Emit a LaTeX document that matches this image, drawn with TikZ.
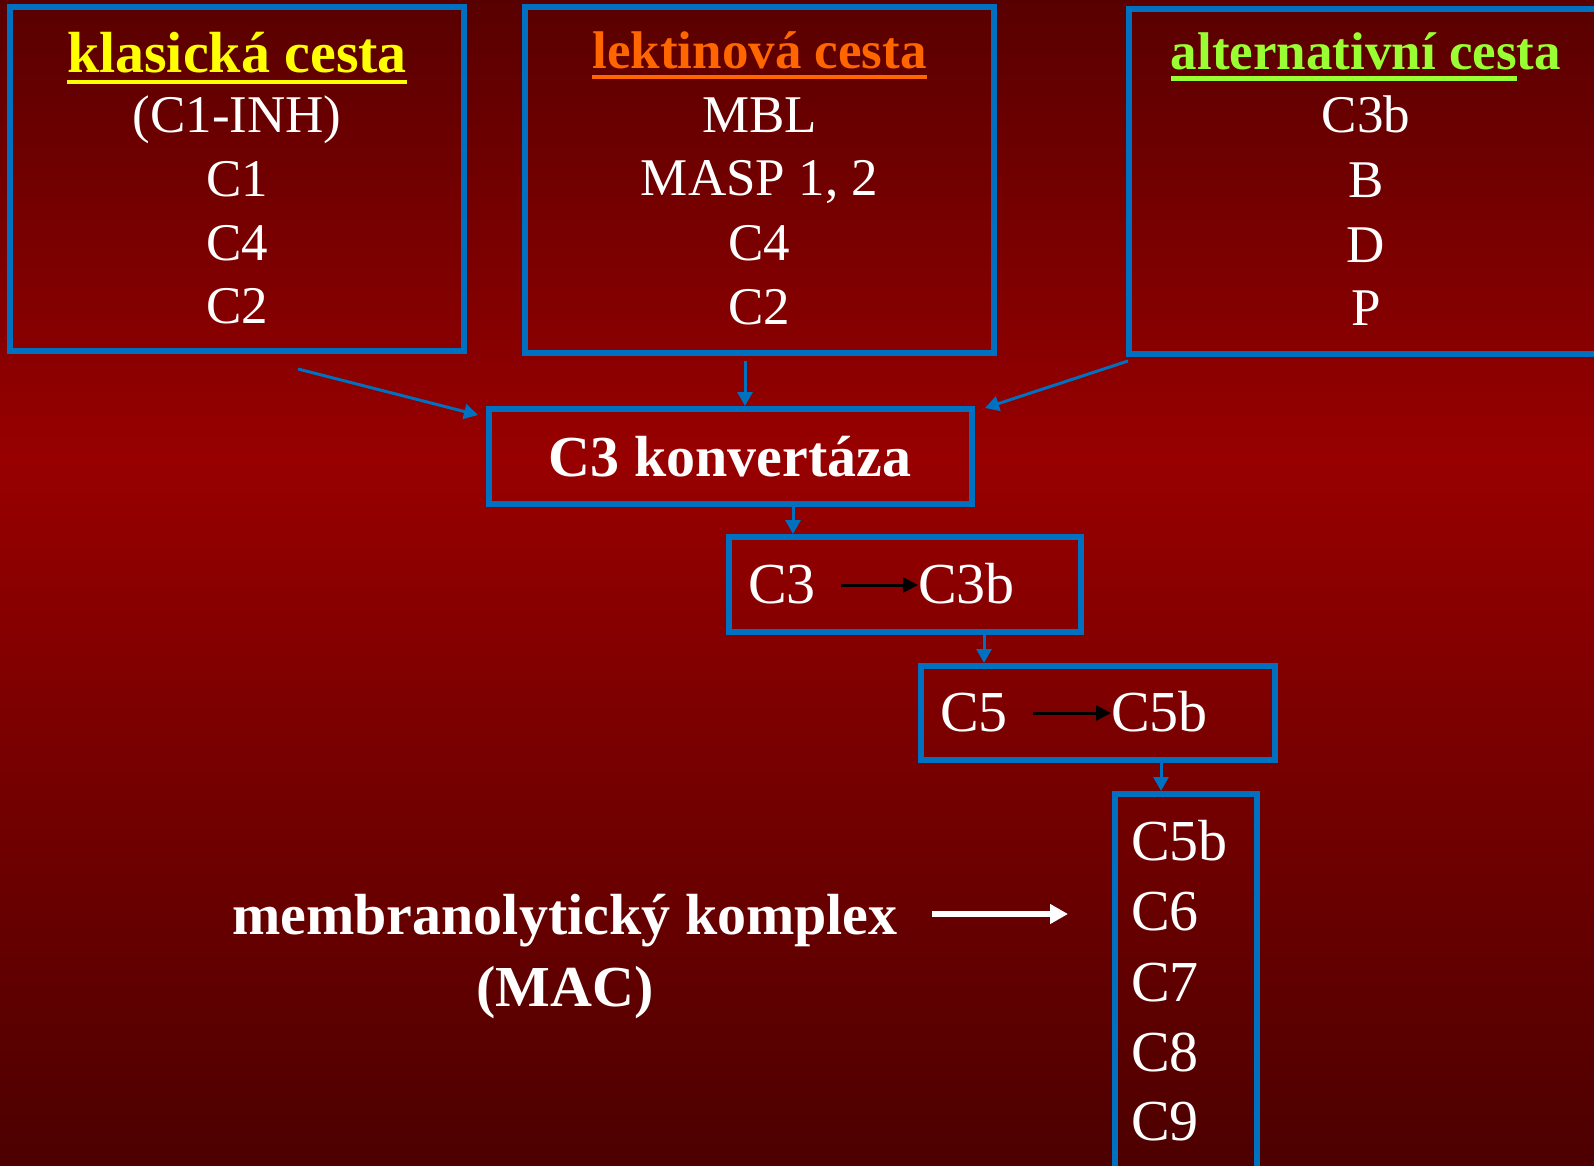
\documentclass[tikz,border=0pt]{standalone}
\usepackage{fontspec}
\setmainfont{Liberation Serif}
\usetikzlibrary{arrows.meta}
\definecolor{boxblue}{RGB}{0,112,192}
\definecolor{bgtop}{RGB}{88,0,0}
\definecolor{bgmid}{RGB}{152,0,0}
\definecolor{bgbot}{RGB}{76,0,0}
\definecolor{hyellow}{RGB}{255,255,0}
\definecolor{horange}{RGB}{255,102,0}
\definecolor{hgreen}{RGB}{153,255,51}
\newcommand\ulbar[3]{\leavevmode\setbox0\hbox{#3}\rlap{\rule[-#1]{\wd0}{#2}}\box0}
\tikzset{
  bbox/.style={draw=boxblue, line width=6pt, inner sep=0pt, rectangle},
  conn/.style={draw=boxblue, line width=3pt, -{Triangle[length=14pt,width=15pt]}},
  inarr/.style={draw=black, line width=3pt, -{Triangle[length=15pt,width=15pt]}},
  whitearr/.style={draw=white, line width=6pt, -{Triangle[length=18pt,width=19pt]}},
  hdA/.style={font=\fontsize{58}{66}\selectfont\bfseries, anchor=base, inner sep=0pt},
  hdB/.style={font=\fontsize{53}{60}\selectfont\bfseries, anchor=base, inner sep=0pt},
  itm/.style={font=\fontsize{53}{60}\selectfont, text=white, anchor=base, inner sep=0pt},
  itl/.style={font=\fontsize{58}{66}\selectfont, text=white, anchor=base west, inner sep=0pt},
  bold58/.style={font=\fontsize{58}{66}\selectfont\bfseries, text=white, anchor=base, inner sep=0pt},
}
\begin{document}
\begin{tikzpicture}[x=1pt,y=-1pt]
\useasboundingbox (0,0) rectangle (1594,1166);
\clip (0,0) rectangle (1594,1166);
% background
\shade[top color=bgtop, bottom color=bgmid] (0,-1) rectangle (1594,461);
\shade[top color=bgmid, bottom color=bgbot] (0,460) rectangle (1594,1167);

% boxes
\node[bbox, minimum width=454pt, minimum height=344pt] (b1) at (237,179) {};
\node[bbox, minimum width=469pt, minimum height=346pt] (b2) at (759.5,180) {};
\node[bbox, minimum width=474pt, minimum height=345pt] (b3) at (1366,181.5) {};
\node[bbox, minimum width=483pt, minimum height=95pt] (c3k) at (730.5,456.5) {};
\node[bbox, minimum width=352pt, minimum height=95pt] (c3box) at (905,584.5) {};
\node[bbox, minimum width=354pt, minimum height=94pt] (c5box) at (1098,713) {};
\node[bbox, minimum width=142pt, minimum height=420pt] (mac) at (1186,1004) {};

% box 1 texts
\node[hdA, text=hyellow] (h1) at (237,73) {\ulbar{11.3pt}{4.4pt}{klasická cesta}};
\node[itm] (t11) at (237,133) {(C1-INH)};
\node[itm] (t12) at (237,197) {C1};
\node[itm] (t13) at (237,260) {C4};
\node[itm] (t14) at (237,323) {C2};
% box 2 texts
\node[hdB, text=horange] (h2) at (759.5,69) {\ulbar{10.5pt}{4.4pt}{lektinová cesta}};
\node[itm] (t21) at (759.5,133) {MBL};
\node[itm] (t22) at (759.5,196) {MASP 1, 2};
\node[itm] (t23) at (759.5,260) {C4};
\node[itm] (t24) at (759.5,324) {C2};
% box 3 texts
\node[hdB, text=hgreen] (h3) at (1366,70) {\ulbar{10.7pt}{5pt}{alternativní ces}ta};
\node[itm] (t31) at (1366,133) {C3b};
\node[itm] (t32) at (1366,198) {B};
\node[itm] (t33) at (1366,262) {D};
\node[itm] (t34) at (1366,325) {P};

% C3 convertase
\node[bold58] (c3kt) at (730,476) {C3 konvertáza};
% C3 -> C3b
\node[itl] (c3a) at (748,603) {C3};
\node[itl] (c3b) at (918,603) {C3b};
\coordinate (ia1) at (841,585);
\draw[inarr] (ia1) -- (c3b.west |- ia1);
% C5 -> C5b
\node[itl] (c5a) at (940,731) {C5};
\node[itl] (c5b) at (1111,731) {C5b};
\coordinate (ia2) at (1033,713);
\draw[inarr] (ia2) -- (c5b.west |- ia2);
% MAC items
\node[itl] (m1) at (1131,860) {C5b};
\node[itl] (m2) at (1131,930) {C6};
\node[itl] (m3) at (1131,1001) {C7};
\node[itl] (m4) at (1131,1071) {C8};
\node[itl] (m5) at (1131,1140) {C9};

% membranolytic label
\node[bold58] (mem) at (565,934) {membranolytický komplex};
\node[bold58] (memb) at (565,1006) {(MAC)};
\coordinate (wa) at (932,914);
\coordinate (wb) at (1068,914);
\draw[whitearr] (wa) -- (wb);

% connectors
\coordinate (p1) at (298,369);
\coordinate (q1) at (478,415);
\draw[conn] (p1) -- (q1);
\coordinate (p2) at (745,361);
\draw[conn] (p2) -- (c3k.north -| p2);
\coordinate (p3) at (1128,361);
\coordinate (q3) at (985,408);
\draw[conn] (p3) -- (q3);
\coordinate (x4) at (793,0);
\draw[conn] (c3k.south -| x4) -- (c3box.north -| x4);
\coordinate (x5) at (984,0);
\draw[conn] (c3box.south -| x5) -- (c5box.north -| x5);
\coordinate (x6) at (1161,0);
\draw[conn] (c5box.south -| x6) -- (mac.north -| x6);
\end{tikzpicture}
\end{document}
